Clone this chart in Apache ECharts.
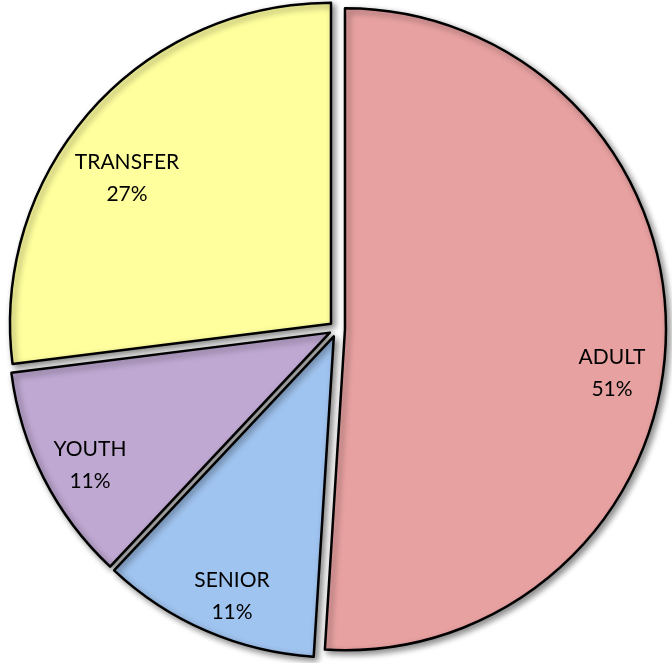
<!DOCTYPE html>
<html>
<head>
<meta charset="utf-8">
<script src="https://cdn.jsdelivr.net/npm/echarts@6/dist/echarts.min.js"></script>
<style>
html,body{margin:0;padding:0;background:#fff;}
#chart{width:672px;height:663px;}
</style>
</head>
<body>
<div id="chart"></div>
<script>
const categories = ['ADULT', 'SENIOR', 'YOUTH', 'TRANSFER'];
const values = [51, 11, 11, 27];
const colors = ['#E8A1A1', '#A0C4F0', '#BFA8D2', '#FFFF9E'];
// label target centers (layout, not data)
const labelTargets = [[612, 373], [232, 596], [90, 465], [127, 178]];
const OFFSET = 8;

const total = values.reduce((a, b) => a + b, 0);
const midAngles = [];
let acc = 0;
values.forEach(v => { midAngles.push((acc + v / 2) / total * 2 * Math.PI); acc += v; });

const chart = echarts.init(document.getElementById('chart'));
chart.setOption({
  animation: false,
  series: [{
    type: 'pie',
    center: [337, 329],
    radius: [0, 321],
    startAngle: 90,
    clockwise: true,
    selectedMode: 'multiple',
    selectedOffset: OFFSET,
    emphasis: { disabled: true },
    label: {
      show: true,
      position: 'inside',
      formatter: '{b}\n{d}%',
      fontFamily: 'Lato, "Open Sans", sans-serif',
      fontSize: 21,
      lineHeight: 32,
      color: '#000',
      align: 'center'
    },
    labelLine: { show: false },
    labelLayout: function (p) {
      const i = p.dataIndex;
      const t = labelTargets[i];
      const a = midAngles[i];
      const ox = Math.sin(a) * OFFSET, oy = -Math.cos(a) * OFFSET;
      const r = p.labelRect;
      return { dx: t[0] - ox - (r.x + r.width / 2), dy: t[1] - oy - (r.y + r.height / 2) };
    },
    itemStyle: {
      borderColor: '#000',
      borderWidth: 2.5,
      shadowColor: 'rgba(0,0,0,0.45)',
      shadowBlur: 6,
      shadowOffsetX: 3,
      shadowOffsetY: 3
    },
    data: categories.map((c, i) => ({
      name: c,
      value: values[i],
      selected: true,
      itemStyle: { color: colors[i] }
    }))
  }]
});
</script>
</body>
</html>
